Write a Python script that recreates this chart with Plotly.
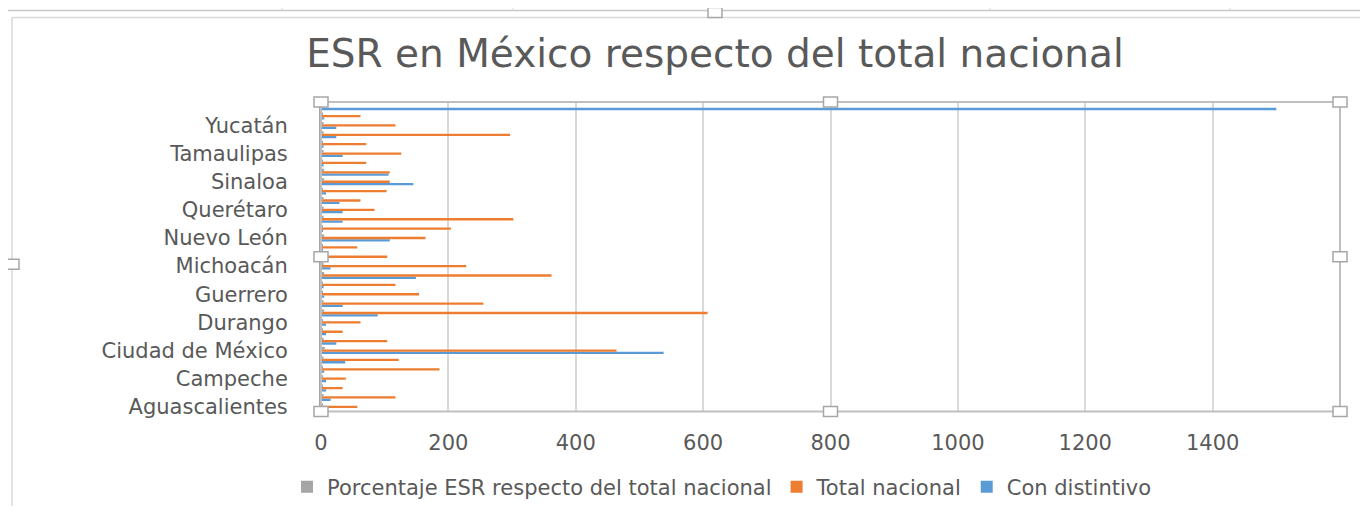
import plotly.graph_objects as go

# ---------------- data ----------------
estados = [
    "Aguascalientes", "Baja California", "Baja California Sur", "Campeche", "Chiapas",
    "Chihuahua", "Ciudad de México", "Coahuila", "Colima", "Durango",
    "Estado de México", "Guanajuato", "Guerrero", "Hidalgo", "Jalisco",
    "Michoacán", "Morelos", "Nayarit", "Nuevo León", "Oaxaca",
    "Puebla", "Querétaro", "Quintana Roo", "San Luis Potosí", "Sinaloa",
    "Sonora", "Tabasco", "Tamaulipas", "Tlaxcala", "Veracruz",
    "Yucatán", "Zacatecas", "Total",
]

porcentaje = [3, 4, 3, 3, 3, 4, 6, 4, 3, 3,
              5, 4, 3, 3, 5, 4, 3, 3, 5, 3,
              4, 4, 4, 3, 5, 5, 3, 4, 3, 4,
              4, 3, None]

total_nacional = [57, 117, 34, 39, 186, 122, 464, 104, 34, 62,
                  607, 255, 154, 117, 362, 228, 104, 57, 164, 204,
                  302, 84, 62, 103, 108, 108, 71, 126, 71, 297,
                  117, 62, None]

con_distintivo = [3, 15, 8, 8, 5, 38, 538, 24, 8, 8,
                  89, 34, 5, 4, 149, 15, 3, 3, 108, 3,
                  34, 34, 29, 8, 145, 106, 4, 34, 4, 24,
                  24, 5, 1500]

tick_labels = ["Aguascalientes", "Campeche", "Ciudad de México", "Durango", "Guerrero",
               "Michoacán", "Nuevo León", "Querétaro", "Sinaloa", "Tamaulipas", "Yucatán"]

x_ticks = [0, 200, 400, 600, 800, 1000, 1200, 1400, 1600]

# ---------------- figure ----------------
OFF = 8                     # page body margin
W, H = 1368 - 2 * OFF, 514 - 2 * OFF
PL, PT, PR, PB = 321, 102, 1340, 413     # plot area in page pixels
ML, MT = PL - OFF, PT - OFF
MR = W - (PR - OFF)
MB = H - (PB - OFF)
PW, PH = PR - PL, PB - PT

FONT = "DejaVu Sans"
TXT = "#595959"

fig = go.Figure()
fig.add_trace(go.Bar(y=estados, x=con_distintivo, orientation="h", name="Con distintivo",
                     marker=dict(color="#5B9BD5", line=dict(width=0)), legendrank=3))
fig.add_trace(go.Bar(y=estados, x=total_nacional, orientation="h", name="Total nacional",
                     marker=dict(color="#ED7D31", line=dict(width=0)), legendrank=2))
fig.add_trace(go.Bar(y=estados, x=porcentaje, orientation="h",
                     name="Porcentaje ESR respecto del total nacional",
                     marker=dict(color="#A5A5A5", line=dict(width=0)), legendrank=1))


def px(xp):
    return (xp - PL) / PW


def py(yp):
    return (PB - yp) / PH


shapes = []
# Excel sheet line and chart border
shapes.append(dict(type="line", xref="paper", yref="paper", x0=px(0), x1=px(1400),
                   y0=py(10), y1=py(10), line=dict(color="#C8C8C8", width=1.5), layer="below"))
for xx in [282, 513, 990, 1230]:
    shapes.append(dict(type="line", xref="paper", yref="paper", x0=px(xx), x1=px(xx),
                       y0=py(-10), y1=py(10), line=dict(color="#D6D6D6", width=1), layer="below"))
shapes.append(dict(type="line", xref="paper", yref="paper", x0=px(12), x1=px(1400),
                   y0=py(17), y1=py(17), line=dict(color="#D9D9D9", width=1.5), layer="below"))
shapes.append(dict(type="line", xref="paper", yref="paper", x0=px(12), x1=px(12),
                   y0=py(17), y1=py(530), line=dict(color="#D9D9D9", width=1.5), layer="below"))
# plot-area selection frame
shapes.append(dict(type="rect", xref="paper", yref="paper", x0=0, x1=1, y0=0, y1=1,
                   line=dict(color="#BFBFBF", width=2), layer="above"))
# handles
handles = [(PL, PT), (PL + PW / 2, PT), (PR, PT),
           (PL, PT + PH / 2), (PR, PT + PH / 2),
           (PL, PB), (PL + PW / 2, PB), (PR, PB),
           (715, 12), (12, 265)]
for hx, hy in handles:
    shapes.append(dict(type="rect", xref="paper", yref="paper",
                       xsizemode="pixel", ysizemode="pixel",
                       xanchor=px(hx), yanchor=py(hy),
                       x0=-7, x1=7, y0=-5, y1=5,
                       fillcolor="white", line=dict(color="#A6A6A6", width=1.5),
                       layer="above"))

fig.update_layout(
    width=W, height=H,
    margin=dict(l=ML, r=MR, t=MT, b=MB, pad=0),
    paper_bgcolor="white", plot_bgcolor="white",
    barmode="group", bargap=0.26, bargroupgap=0,
    font=dict(family=FONT, color=TXT),
    title=dict(text="ESR en México respecto del total nacional",
               x=(715 - OFF) / W, xanchor="center", y=1 - (53 - OFF) / H, yanchor="middle",
               yref="container", font=dict(family=FONT, size=39, color=TXT)),
    xaxis=dict(range=[0, 1600], tickvals=x_ticks, ticktext=[str(v) for v in x_ticks],
               showgrid=True, gridcolor="#D9D9D9", gridwidth=2,
               zeroline=False, showline=False, ticks="",
               ticklabelstandoff=16,
               tickfont=dict(family=FONT, size=21, color=TXT)),
    yaxis=dict(type="category", categoryorder="array", categoryarray=estados,
               range=[-0.5, len(estados) - 0.5],
               tickmode="array", tickvals=tick_labels, ticktext=tick_labels,
               showgrid=False, zeroline=False, showline=True,
               linecolor="#A6A6A6", linewidth=2, ticks="",
               ticklabelstandoff=27,
               tickfont=dict(family=FONT, size=21, color=TXT)),
    legend=dict(orientation="h", x=(722 - OFF) / W, xanchor="center", xref="container",
                y=1 - (487 - OFF) / H, yref="container", yanchor="middle",
                font=dict(family=FONT, size=21, color=TXT),
                itemwidth=30,
                bgcolor="rgba(0,0,0,0)"),
    shapes=shapes,
    showlegend=True,
)

fig.write_html("out.html")
